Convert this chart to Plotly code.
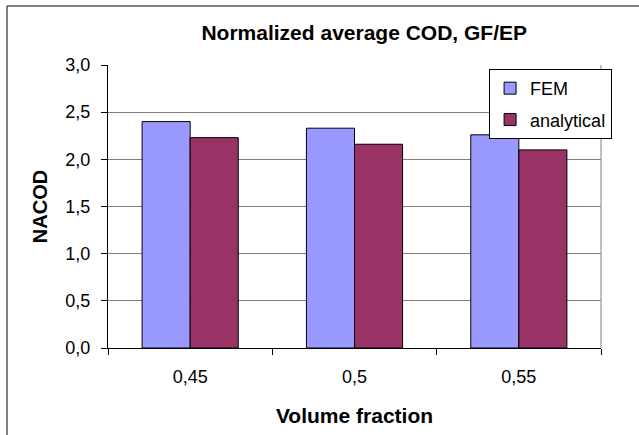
import plotly.graph_objects as go

categories = ["0,45", "0,5", "0,55"]
fem = [2.40, 2.33, 2.26]
analytical = [2.23, 2.16, 2.10]
y_ticks = [0, 0.5, 1.0, 1.5, 2.0, 2.5, 3.0]
y_tick_labels = ["0,0", "0,5", "1,0", "1,5", "2,0", "2,5", "3,0"]

font = "Liberation Sans, Arial, sans-serif"

fig = go.Figure()
fig.add_trace(go.Bar(x=categories, y=fem, name="FEM", marker=dict(color="#9999FF", line=dict(color="black", width=1)), legendgroup="a"))
fig.add_trace(go.Bar(x=categories, y=analytical, name="analytical", marker=dict(color="#993366", line=dict(color="black", width=1)), legendgroup="b"))

fig.update_layout(
    width=639, height=435,
    margin=dict(l=108, r=38, t=65, b=87),
    paper_bgcolor="white", plot_bgcolor="white",
    barmode="group", bargap=0.415, bargroupgap=0,
    font=dict(family=font, size=18, color="black"),
    title=dict(text="<b>Normalized average COD, GF/EP</b>", x=0.57, xanchor="center", y=0.925, yanchor="middle",
               font=dict(family=font, size=21, color="black")),
    xaxis=dict(type="category", showline=True, linecolor="black", linewidth=1,
               ticks="outside", tickson="boundaries", ticklen=6, tickcolor="black",
               showgrid=False, ticklabelstandoff=12,
               title=dict(text="<b>Volume fraction</b>", font=dict(family=font, size=21), standoff=22),
               tickfont=dict(size=18)),
    yaxis=dict(range=[0, 3.0], tickvals=y_ticks, ticktext=y_tick_labels,
               showline=True, linecolor="black", linewidth=1,
               ticks="outside", ticklen=6, tickcolor="black",
               showgrid=True, gridcolor="#808080", gridwidth=1,
               zeroline=False, ticklabelstandoff=7,
               title=dict(text="<b>NACOD</b>", font=dict(family=font, size=20), standoff=12),
               tickfont=dict(size=18)),
    legend=dict(x=0.773, y=0.986, xanchor="left", yanchor="top",
                bgcolor="white", bordercolor="black", borderwidth=1,
                font=dict(family=font, size=18), tracegroupgap=5, traceorder="grouped",
                itemwidth=30),
)

fig.add_shape(type="line", xref="paper", yref="paper", x0=1, x1=1, y0=0, y1=1,
              line=dict(color="#808080", width=1))
fig.add_shape(type="rect", xref="paper", yref="paper",
              x0=-101/493, x1=(639 + 5 - 108) / 493, y0=-(87 + 5) / 283, y1=1 + 59 / 283,
              line=dict(color="black", width=1), layer="below")

fig.write_html("out.html")
